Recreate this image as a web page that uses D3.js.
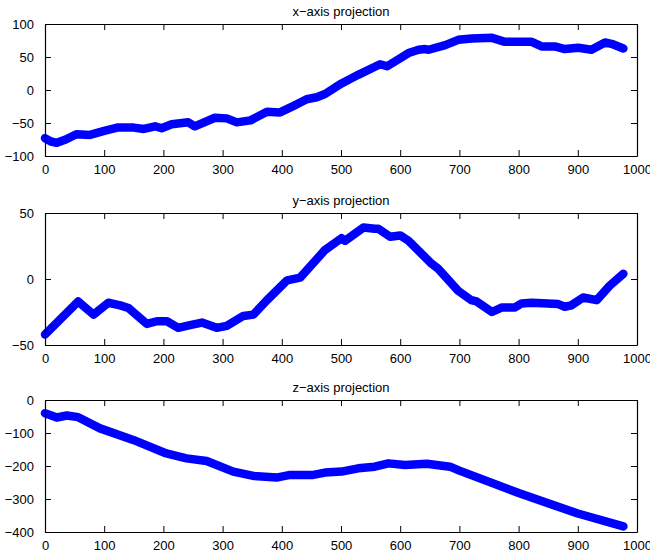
<!DOCTYPE html>
<html>
<head>
<meta charset="utf-8">
<script src="https://cdn.jsdelivr.net/npm/d3@7"></script>
<style>
html,body{margin:0;padding:0;background:#fff;}
svg{display:block;}
text{font-family:"Liberation Sans",Arial,Helvetica,sans-serif;fill:#000;}
</style>
</head>
<body>
<script>
// ---- data ----
const titles = ["x\u2212axis projection", "y\u2212axis projection", "z\u2212axis projection"];
const xTicks = [0,100,200,300,400,500,600,700,800,900,1000];

const xProjT = [0,10,20,35,53,76,100,122,150,167,186,197,214,242,253,287,307,324,347,375,397,420,442,459,473,501,529,566,578,614,631,642,648,676,698,721,755,777,800,822,839,861,878,901,923,946,957,977];
const xProjV = [-73,-78,-80,-75,-67,-68,-62,-57,-57,-59,-55,-58,-52,-49,-55,-42,-43,-49,-46,-33,-34,-24,-14,-11,-6,10,23,39,36,56,61,62,61,68,76,78,79,73,73,73,66,66,62,64,61,72,70,63];
const xProjTicks = [-100,-50,0,50,100];

const yProjT = [0,56,82,107,127,141,172,189,206,225,245,265,290,307,335,352,375,409,431,473,501,507,538,557,563,583,600,614,653,664,698,720,729,755,772,794,805,822,867,878,889,909,932,954,977];
const yProjV = [-42,-17,-27,-18,-20,-22,-34,-32,-32,-37,-35,-33,-37,-35.5,-28,-27,-16,-1,1,22,31,29,39,38,38,32,33,29,11.6,7.8,-9,-16,-17,-25,-21.5,-21.5,-18.5,-18,-19,-21,-20,-14,-16,-5,4];
const yProjTicks = [-50,0,50];

const zProjT = [0,20,37,56,93,149,205,239,273,318,352,391,414,453,473,501,529,557,580,608,645,684,700,800,900,977];
const zProjV = [-40,-53,-47,-52,-86,-121,-162,-177,-185,-217,-230,-235,-227,-227,-220,-217,-207,-202,-192,-197,-193,-202,-214,-282,-344,-383];
const zProjTicks = [-400,-300,-200,-100,0];

const panels = [
  {title: titles[0], t: xProjT, v: xProjV, ticks: xProjTicks, domain: [-100,100]},
  {title: titles[1], t: yProjT, v: yProjV, ticks: yProjTicks, domain: [-50,50]},
  {title: titles[2], t: zProjT, v: zProjV, ticks: zProjTicks, domain: [-400,0]}
];

// ---- layout ----
const W = 650, H = 552;
const left = 45, right = 637;
const tops = [24, 213, 400];
const ph = 132;
const tickLen = 6;
const fs = 13;

const svg = d3.select("body").append("svg").attr("width", W).attr("height", H);
const fmt = d => (d < 0 ? "\u2212" + Math.abs(d) : String(d));

const x = d3.scaleLinear().domain([0,1000]).range([left, right]);

panels.forEach((p, i) => {
  const top = tops[i], bottom = top + ph;
  const y = d3.scaleLinear().domain(p.domain).range([bottom, top]);
  const g = svg.append("g");

  // data line
  const pts = p.t.map((t, k) => [t, p.v[k]]);
  g.append("path")
    .datum(pts)
    .attr("fill", "none")
    .attr("stroke", "#0000ff")
    .attr("stroke-width", 8.5)
    .attr("stroke-linejoin", "round")
    .attr("stroke-linecap", "round")
    .attr("d", d3.line().x(d => x(d[0])).y(d => y(d[1])));

  // axes (inward ticks, box)
  const axB = d3.axisBottom(x).tickValues(xTicks).tickSizeInner(-tickLen).tickSizeOuter(0).tickPadding(tickLen + 3).tickFormat(fmt);
  const axT = d3.axisTop(x).tickValues(xTicks).tickSizeInner(-tickLen).tickSizeOuter(0).tickFormat("");
  const axL = d3.axisLeft(y).tickValues(p.ticks).tickSizeInner(-tickLen).tickSizeOuter(0).tickPadding(tickLen + 5).tickFormat(fmt);
  const axR = d3.axisRight(y).tickValues(p.ticks).tickSizeInner(-tickLen).tickSizeOuter(0).tickFormat("");

  const gb = g.append("g").attr("transform", `translate(0,${bottom})`).call(axB);
  const gt = g.append("g").attr("transform", `translate(0,${top})`).call(axT);
  const gl = g.append("g").attr("transform", `translate(${left},0)`).call(axL);
  const gr = g.append("g").attr("transform", `translate(${right},0)`).call(axR);
  [gb, gt, gl, gr].forEach(a => {
    a.selectAll("path.domain").attr("stroke", "#000").attr("stroke-width", 1.2);
    a.selectAll(".tick line").attr("stroke", "#000").attr("stroke-width", 1);
    a.selectAll("text").attr("font-size", fs).attr("font-family", "'Liberation Sans',Arial,sans-serif").attr("fill", "#000");
  });

  // title
  g.append("text")
    .attr("x", (left + right) / 2)
    .attr("y", top - 8)
    .attr("text-anchor", "middle")
    .attr("font-size", fs)
    .text(p.title);
});
</script>
</body>
</html>
